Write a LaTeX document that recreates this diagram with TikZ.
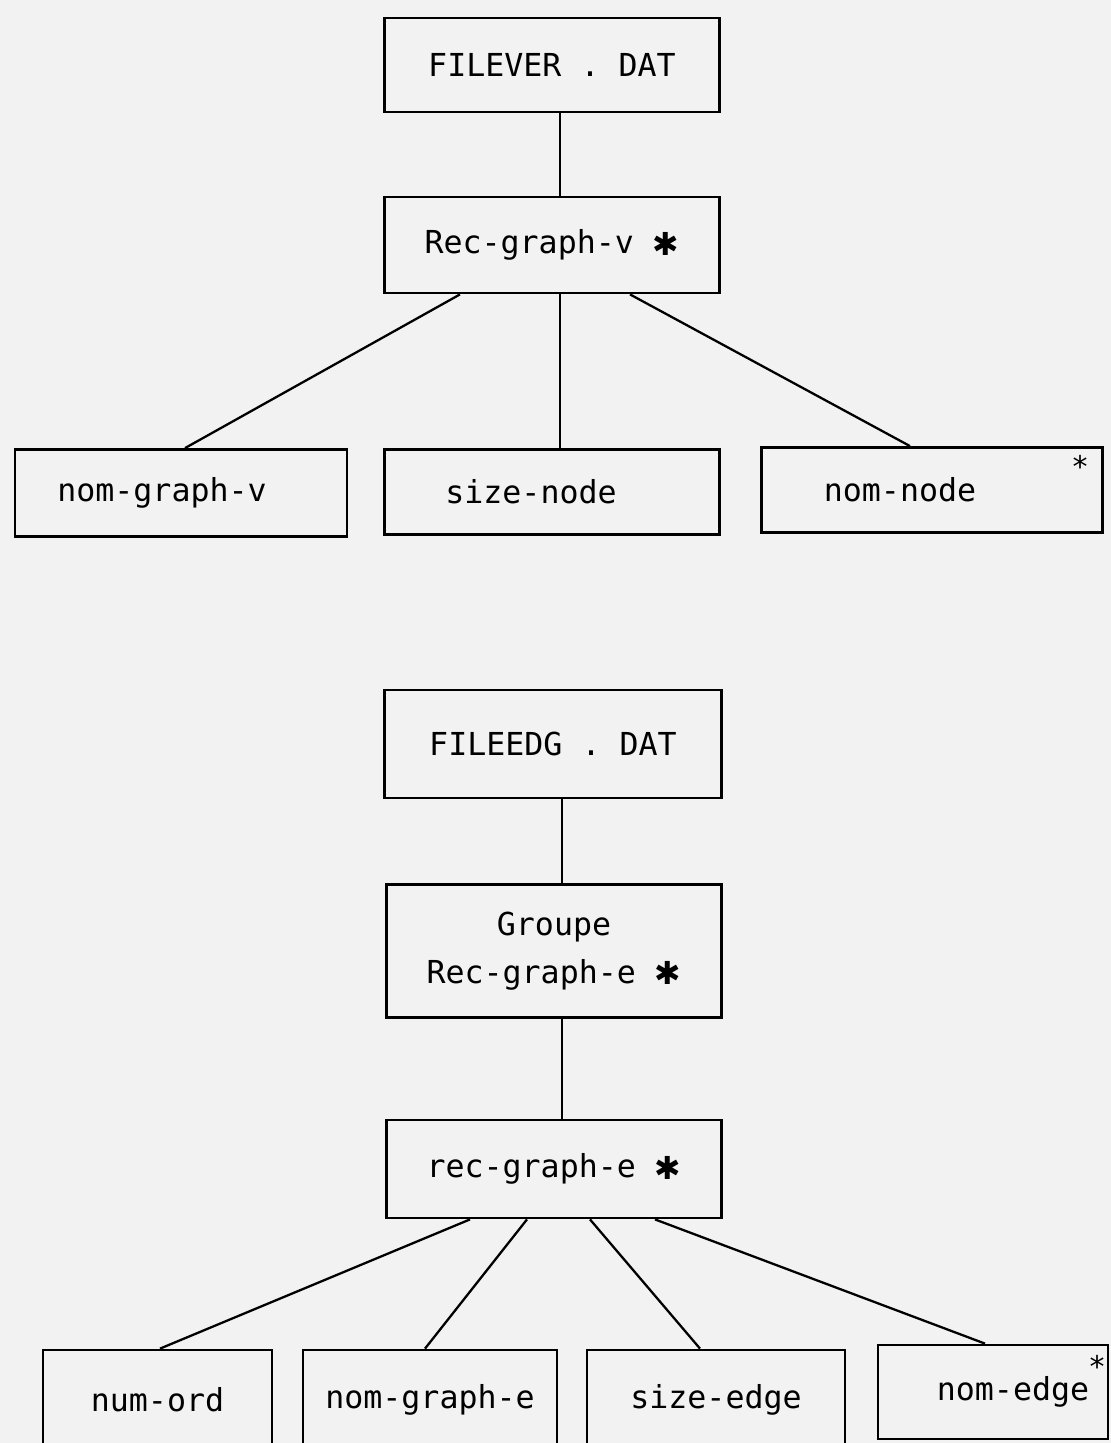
\documentclass[tikz,border=0pt]{standalone}
\usepackage{fontspec}
\setmonofont{DejaVu Sans Mono}
\newfontfamily\symfont{DejaVu Sans}
\usetikzlibrary{calc}
\newcommand{\bigstar}{{\symfont\raisebox{-0.05em}{✱}}}
\begin{document}
\begin{tikzpicture}[x=0.02cm,y=-0.02cm,
  box/.style={draw=black,line width=1.6pt,inner sep=0pt,align=center,
    font=\ttfamily\fontsize{18}{27}\selectfont,text=black},
  link/.style={draw=black,line width=1.3pt},
  starmark/.style={inner sep=0pt,font=\ttfamily\fontsize{17}{17}\selectfont}]
\fill[black!5] (0,0) rectangle (1111,1443);
\useasboundingbox (0,0) rectangle (1111,1443);
% upper tree
\node[box,minimum width=6.7cm,minimum height=1.88cm] (fv) at (552,65) {FILEVER . DAT};
\node[box,minimum width=6.7cm,minimum height=1.92cm] (rv) at (552,245) {Rec-graph-v \bigstar};
\node[box,minimum width=6.64cm,minimum height=1.74cm] (ngv) at (181,493) {nom-graph-v\hspace*{0.76cm}};
\node[box,minimum width=6.7cm,minimum height=1.7cm] (sn) at (552,492) {size-node\hspace*{0.84cm}};
\node[box,minimum width=6.82cm,minimum height=1.7cm] (nn) at (932,490) {nom-node\hspace*{1.28cm}};
\node[starmark] (s1) at (1080,466) {*};
\draw[link] ($(fv.south)+(8,0)$) -- ($(rv.north)+(8,0)$);
\draw[link] ($(rv.south)+(-92,0)$) -- ($(ngv.north)+(4,0)$);
\draw[link] ($(rv.south)+(8,0)$) -- ($(sn.north)+(8,0)$);
\draw[link] ($(rv.south)+(78,0)$) -- ($(nn.north)+(-22,0)$);
% lower tree
\node[box,minimum width=6.74cm,minimum height=2.16cm] (fe) at (553,744) {FILEEDG . DAT};
\node[box,minimum width=6.7cm,minimum height=2.66cm] (gr) at (554,951) {Groupe\\Rec-graph-e \bigstar};
\node[box,minimum width=6.7cm,minimum height=1.96cm] (re) at (554,1169) {rec-graph-e \bigstar};
\node[box,minimum width=4.58cm,minimum height=2cm] (no) at (157.5,1400) {num-ord};
\node[box,minimum width=5.08cm,minimum height=2cm] (nge) at (430,1400) {nom-graph-e};
\node[box,minimum width=5.16cm,minimum height=2cm] (se) at (716,1400) {size-edge};
\node[box,minimum width=4.6cm,minimum height=1.88cm] (ne) at (993,1392) {\hspace*{0.8cm}nom-edge};
\node[starmark] (s2) at (1097,1366) {*};
\draw[link] ($(fe.south)+(9,0)$) -- ($(gr.north)+(8,0)$);
\draw[link] ($(gr.south)+(8,0)$) -- ($(re.north)+(8,0)$);
\draw[link] ($(re.south)+(-84,0)$) -- ($(no.north)+(2.5,0)$);
\draw[link] ($(re.south)+(-27,0)$) -- ($(nge.north)+(-5,0)$);
\draw[link] ($(re.south)+(36,0)$) -- ($(se.north)+(-16,0)$);
\draw[link] ($(re.south)+(101,0)$) -- ($(ne.north)+(-8,0)$);
\end{tikzpicture}
\end{document}
